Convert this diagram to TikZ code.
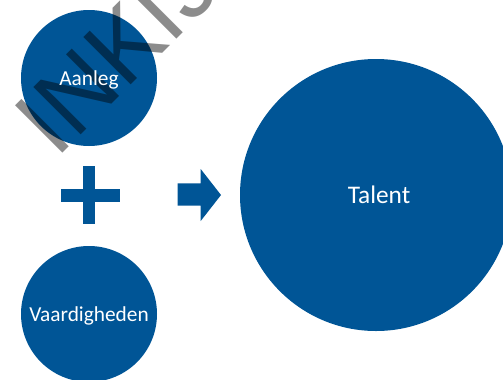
\documentclass[tikz,border=0pt]{standalone}
\usepackage{fontspec}
\setmainfont{Carlito}
\newfontfamily\wmfont{Liberation Sans}
\definecolor{tblue}{RGB}{0,85,150}
\begin{document}
\begin{tikzpicture}[x=0.75pt,y=-0.75pt,
  bubble/.style={circle, fill=tblue, inner sep=0pt},
  label text/.style={text=white, inner sep=0pt, anchor=base, font=\fontsize{16}{18}\selectfont},
  sym/.style={fill=tblue},
  watermark/.style={text=black, opacity=0.45, inner sep=0pt, anchor=base west, rotate=45,
    font=\wmfont\fontsize{73}{80}\selectfont}]
\path[use as bounding box] (0,0) rectangle (503,379);
\clip (0,0) rectangle (503,379);
% circles
\node[bubble, minimum size=102pt] (aanleg) at (89,78) {};
\node[bubble, minimum size=102pt] (vaard) at (89,314) {};
\node[bubble, minimum size=204pt] (talent) at (376,195) {};
% plus sign
\fill[sym] (60.5,189) rectangle (119.5,201.5);
\fill[sym] (82.7,165.7) rectangle (95.3,224);
% arrow
\fill[sym] (177.7,183.3) -- (200.7,183.3) -- (200.7,169) -- (221,195) -- (200.7,221) -- (200.7,205.7) -- (177.7,205.7) -- cycle;
% watermark
\node[watermark] (wm) at (56,160) {INKIJKEXEMPLAAR};
% labels
\node[label text] (taanleg) at (89,85) {Aanleg};
\node[label text] (tvaard) at (89,321) {Vaardigheden};
\node[label text, font=\fontsize{19}{22}\selectfont] (ttalent) at (379,203) {Talent};
\end{tikzpicture}
\end{document}
